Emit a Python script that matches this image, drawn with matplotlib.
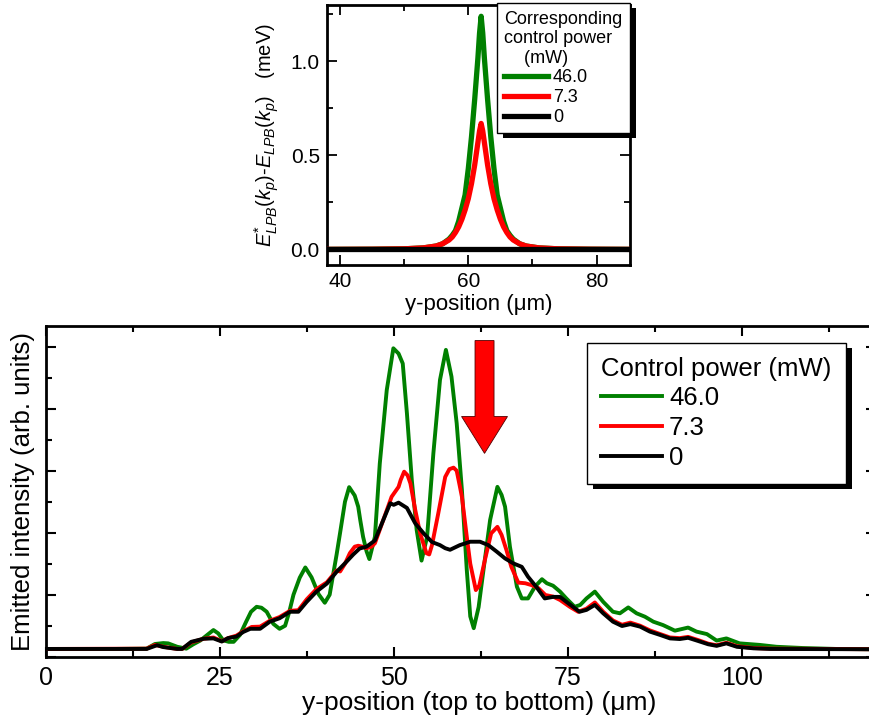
import matplotlib
matplotlib.use('Agg')
import matplotlib.pyplot as plt
from matplotlib.patches import Rectangle, FancyArrow
from matplotlib.ticker import MultipleLocator, FormatStrFormatter

plt.rcParams['font.family'] = ['Liberation Sans', 'DejaVu Sans']
plt.rcParams['mathtext.fontset'] = 'custom'
plt.rcParams['mathtext.rm'] = 'Liberation Sans'
plt.rcParams['mathtext.it'] = 'Liberation Sans:italic'

# ---------------- data: main (bottom) panel ----------------
x_green = [0, 10, 14.5, 15.7, 16.9, 17.6, 18.9, 20.2, 21.2, 22.2, 23.2, 24.1, 24.8, 25.5, 26.3, 27.0,
           27.9, 28.8, 29.5, 30.3, 31.0, 31.75, 32.7, 33.6, 34.4, 35.0, 35.6, 36.5, 37.3, 38.2, 39.2,
           40.1, 40.8, 41.8, 42.3, 43.0, 43.6, 44.4, 44.9, 45.2, 45.6, 46.1, 46.5, 47.3, 48.0, 49.0,
           49.95, 50.7, 51.3, 51.9, 52.6, 53.3, 54.0, 54.8, 55.7, 56.65, 57.5, 58.3, 59.05, 59.8, 60.5,
           61.0, 61.5, 62.2, 62.9, 63.85, 64.9, 65.5, 66.0, 66.7, 67.7, 68.4, 69.3, 70.3, 71.3, 72.0,
           72.9, 73.9, 74.8, 76.0, 76.8, 77.7, 78.9, 80.1, 81.5, 82.5, 83.7, 84.9, 86.1, 87.3, 88.7,
           90.4, 92.3, 93.5, 95.0, 96.4, 97.8, 99.7, 102.6, 105.0, 108.8, 113.6, 119.5]
y_green = [0.25, 0.25, 0.26, 0.41, 0.44, 0.43, 0.32, 0.26, 0.40, 0.52, 0.70, 0.86, 0.75, 0.53, 0.48, 0.48,
           0.70, 1.13, 1.45, 1.61, 1.58, 1.45, 1.06, 0.90, 1.00, 1.45, 2.00, 2.55, 2.88, 2.56, 2.02,
           1.74, 2.00, 3.30, 4.00, 5.00, 5.47, 5.20, 4.84, 4.40, 3.87, 3.40, 3.15, 3.87, 6.23, 8.60,
           9.95, 9.78, 9.46, 7.85, 5.70, 4.09, 3.10, 3.87, 6.56, 8.93, 9.90, 9.04, 7.53, 5.38, 2.80,
           1.30, 0.92, 1.60, 2.80, 4.41, 5.48, 5.22, 4.84, 3.55, 2.26, 1.88, 1.88, 2.26, 2.50, 2.37,
           2.29, 2.10, 1.88, 1.61, 1.67, 1.88, 2.10, 1.77, 1.45, 1.40, 1.59, 1.40, 1.29, 1.13, 1.02,
           0.84, 0.94, 0.81, 0.73, 0.52, 0.59, 0.43, 0.38, 0.32, 0.28, 0.25, 0.24]

x_red = [0, 14.5, 15.7, 16.9, 18.9, 19.6, 20.9, 22.7, 24.1, 25.3, 26.2, 27.4, 28.4, 29.6, 30.8, 32.2,
         33.6, 35.1, 36.3, 37.5, 38.9, 40.4, 41.8, 42.3, 43.0, 43.7, 44.4, 44.9, 45.5, 46.1, 46.8, 47.3,
         48.5, 49.7, 50.7, 51.0, 51.5, 52.0, 52.4, 53.1, 53.8, 54.7, 55.1, 55.5, 56.4, 57.4, 58.0, 58.6,
         59.05, 59.5, 59.8, 60.5, 61.0, 61.8, 62.3, 63.1, 64.0, 64.9, 65.5, 66.2, 66.9, 67.9, 68.9, 69.8,
         70.8, 71.8, 72.9, 73.9, 75.3, 76.5, 77.7, 78.9, 80.1, 81.5, 82.8, 84.0, 85.4, 86.8, 88.3, 89.7,
         91.1, 92.3, 93.7, 95.2, 96.4, 97.8, 99.3, 101.7, 104.1, 119.5]
y_red = [0.25, 0.26, 0.38, 0.32, 0.25, 0.25, 0.46, 0.58, 0.62, 0.50, 0.60, 0.68, 0.82, 0.96, 0.97, 1.16,
         1.28, 1.48, 1.50, 1.85, 2.18, 2.40, 2.78, 2.75, 3.00, 3.34, 3.55, 3.58, 3.55, 3.50, 3.55, 3.66,
         4.41, 5.16, 5.48, 5.70, 5.97, 5.85, 5.59, 4.73, 3.98, 3.34, 3.30, 3.60, 4.62, 5.80, 6.05, 6.10,
         6.00, 5.50, 5.16, 3.87, 3.00, 2.15, 2.30, 3.12, 3.98, 4.19, 3.93, 3.44, 2.90, 2.39, 2.37, 2.31,
         2.21, 1.99, 1.94, 1.83, 1.61, 1.45, 1.55, 1.75, 1.45, 1.17, 1.03, 1.10, 1.00, 0.85, 0.73, 0.62,
         0.60, 0.64, 0.54, 0.42, 0.37, 0.45, 0.34, 0.28, 0.26, 0.24]

x_black = [0, 14.5, 16.0, 16.9, 18.9, 19.6, 20.9, 22.7, 24.1, 25.3, 26.2, 27.4, 28.4, 29.4, 30.8, 32.2,
           33.6, 35.1, 36.3, 37.5, 38.9, 40.4, 41.8, 43.2, 44.2, 45.1, 46.1, 47.3, 48.3, 49.5, 50.0, 50.7,
           51.9, 53.1, 54.3, 55.5, 56.65, 57.4, 58.1, 59.5, 61.0, 62.4, 63.6, 64.8, 66.0, 67.2, 68.4, 69.3,
           70.5, 71.7, 72.9, 73.9, 75.1, 76.7, 77.7, 78.9, 80.1, 81.5, 82.8, 84.0, 85.4, 86.8, 88.3, 89.7,
           91.1, 92.3, 93.7, 95.2, 96.4, 97.8, 99.3, 101.7, 104.1, 119.5]
y_black = [0.25, 0.25, 0.37, 0.31, 0.25, 0.25, 0.48, 0.58, 0.59, 0.49, 0.60, 0.65, 0.80, 0.90, 0.90, 1.13,
           1.24, 1.45, 1.45, 1.77, 2.10, 2.36, 2.74, 3.06, 3.30, 3.49, 3.55, 3.75, 4.30, 4.95, 4.90, 4.97,
           4.80, 4.30, 3.98, 3.70, 3.60, 3.50, 3.45, 3.60, 3.71, 3.71, 3.60, 3.39, 3.17, 3.01, 2.90, 2.58,
           2.25, 1.88, 1.93, 1.93, 1.72, 1.45, 1.51, 1.67, 1.40, 1.13, 0.99, 1.05, 0.97, 0.81, 0.70, 0.59,
           0.57, 0.61, 0.51, 0.40, 0.35, 0.43, 0.32, 0.27, 0.25, 0.24]

# ---------------- data: inset (top) panel ----------------
x_top = [38, 45, 50, 53, 55, 56, 57, 57.5, 58, 58.5, 59, 59.5, 60, 60.5, 61, 61.5, 61.75, 62,
         62.25, 62.5, 63, 63.5, 64, 64.5, 65, 65.5, 66, 66.5, 67, 68, 69, 71, 74, 79, 85.2]
green_top = [0.0, 0.001, 0.003, 0.008, 0.018, 0.03, 0.055, 0.075, 0.10, 0.15, 0.22, 0.29, 0.43, 0.60,
             0.80, 1.02, 1.15, 1.24, 1.15, 1.02, 0.80, 0.60, 0.43, 0.29, 0.22, 0.15, 0.10, 0.075, 0.055,
             0.03, 0.018, 0.008, 0.003, 0.001, 0.0]
red_top = [0.0, 0.001, 0.003, 0.008, 0.018, 0.03, 0.05, 0.066, 0.09, 0.12, 0.16, 0.21, 0.27, 0.35,
           0.45, 0.57, 0.63, 0.67, 0.63, 0.57, 0.45, 0.35, 0.27, 0.21, 0.16, 0.12, 0.09, 0.066, 0.05,
           0.03, 0.018, 0.008, 0.003, 0.001, 0.0]
x_top_black = [38, 85.2]
black_top = [0.0, 0.0]

labels = ['46.0', '7.3', '0']
colors = ['#008000', '#ff0000', '#000000']

W, H = 869, 724
fig = plt.figure(figsize=(W / 100, H / 100), dpi=100)

# ---------------- bottom axes ----------------
ax_left, ax_right, ax_top_px, ax_bot = 45.7, 876.0, 326.0, 656.7
axb = fig.add_axes([ax_left / W, (H - ax_bot) / H, (ax_right - ax_left) / W, (ax_bot - ax_top_px) / H])
axb.set_facecolor('none')
lw_b = 2.8
lg, = axb.plot(x_green, y_green, color=colors[0], lw=lw_b, zorder=2)
lr, = axb.plot(x_red, y_red, color=colors[1], lw=lw_b, zorder=3)
lk, = axb.plot(x_black, y_black, color=colors[2], lw=lw_b, zorder=4)
axb.set_xlim(0, (ax_right - ax_left) / 6.96)
axb.set_ylim(0, 10.67)
axb.xaxis.set_major_locator(MultipleLocator(25))
axb.xaxis.set_minor_locator(MultipleLocator(12.5))
axb.yaxis.set_major_locator(MultipleLocator(2))
axb.yaxis.set_minor_locator(MultipleLocator(1))
axb.tick_params(which='both', direction='in', top=True, right=True, labelleft=False,
                labelsize=18, width=1.5, pad=7)
axb.tick_params(which='major', length=7)
axb.tick_params(which='minor', length=4.5, right=False)
for s in axb.spines.values():
    s.set_linewidth(2.0)
axb.set_xlabel('y-position (top to bottom) (μm)', fontsize=19)
axb.xaxis.set_label_coords((479 - ax_left) / (ax_right - ax_left), -0.105)
axb.set_ylabel('Emitted intensity (arb. units)', fontsize=18.5, labelpad=8)

arrow = FancyArrow(63.05, 10.2, 0, -3.64, width=2.73, head_width=6.6, head_length=1.19,
                   length_includes_head=True, facecolor='#ff0000', edgecolor='#500000',
                   linewidth=0.6, zorder=5)
axb.add_patch(arrow)

legb = axb.legend(handles=[lg, lr, lk], labels=labels, title='Control power (mW)',
                  loc='upper left', bbox_to_anchor=(0.652, 0.9495), borderaxespad=0,
                  fontsize=18.5, title_fontsize=18.5, fancybox=False, edgecolor='black',
                  framealpha=1, handlelength=2.36, handletextpad=0.28, labelspacing=0.22,
                  borderpad=0.55, alignment='left')
legb.get_frame().set_linewidth(1.0)

# ---------------- top axes ----------------
axt = fig.add_axes([326.7 / W, (H - 265) / H, (630 - 326.7) / W, 260 / H])
axt.set_facecolor('none')
lw_t = 3.8
tg, = axt.plot(x_top, green_top, color=colors[0], lw=lw_t, zorder=2)
tr, = axt.plot(x_top, red_top, color=colors[1], lw=lw_t, zorder=3)
tk, = axt.plot(x_top_black, black_top, color=colors[2], lw=lw_t, zorder=4)
axt.set_xlim(37.93, 85.2)
axt.set_ylim(-0.083, 1.30)
axt.xaxis.set_major_locator(MultipleLocator(20))
axt.xaxis.set_minor_locator(MultipleLocator(10))
axt.yaxis.set_major_locator(MultipleLocator(0.5))
axt.yaxis.set_minor_locator(MultipleLocator(0.25))
axt.yaxis.set_major_formatter(FormatStrFormatter('%.1f'))
axt.tick_params(which='both', direction='in', top=True, right=True, labelsize=15, width=1.3)
axt.tick_params(which='major', length=7, pad=5)
axt.tick_params(which='minor', length=4)
for s in axt.spines.values():
    s.set_linewidth(2.0)
axt.set_xlabel('y-position (μm)', fontsize=16, labelpad=2)
axt.set_ylabel(r'$E^{*}_{LPB}(k_p)$-$E_{LPB}(k_p)$   (meV)', fontsize=14.5, labelpad=7)

legt = axt.legend(handles=[tg, tr, tk], labels=labels,
                  title='Corresponding\ncontrol power\n    (mW)',
                  loc='upper left', bbox_to_anchor=(496.7 / W, (H - 3) / H),
                  bbox_transform=fig.transFigure, borderaxespad=0,
                  fontsize=13, title_fontsize=13, fancybox=False, edgecolor='black',
                  framealpha=1, handlelength=2.4, handletextpad=0.3, labelspacing=0.15,
                  borderpad=0.42, alignment='left')
legt.get_frame().set_linewidth(1.0)
legt.get_title().set_multialignment('left')

# ---------------- legend shadows ----------------
fig.canvas.draw()
renderer = fig.canvas.get_renderer()
for ax, leg in ((axb, legb), (axt, legt)):
    bb = leg.get_window_extent(renderer)
    rect = Rectangle(((bb.x0 + 6) / W, (bb.y0 - 5) / H), bb.width / W, bb.height / H,
                     transform=fig.transFigure, facecolor='black', edgecolor='none', zorder=4.9)
    ax.add_artist(rect)
    rect.set_clip_on(False)

fig.savefig('out.png', dpi=100)
